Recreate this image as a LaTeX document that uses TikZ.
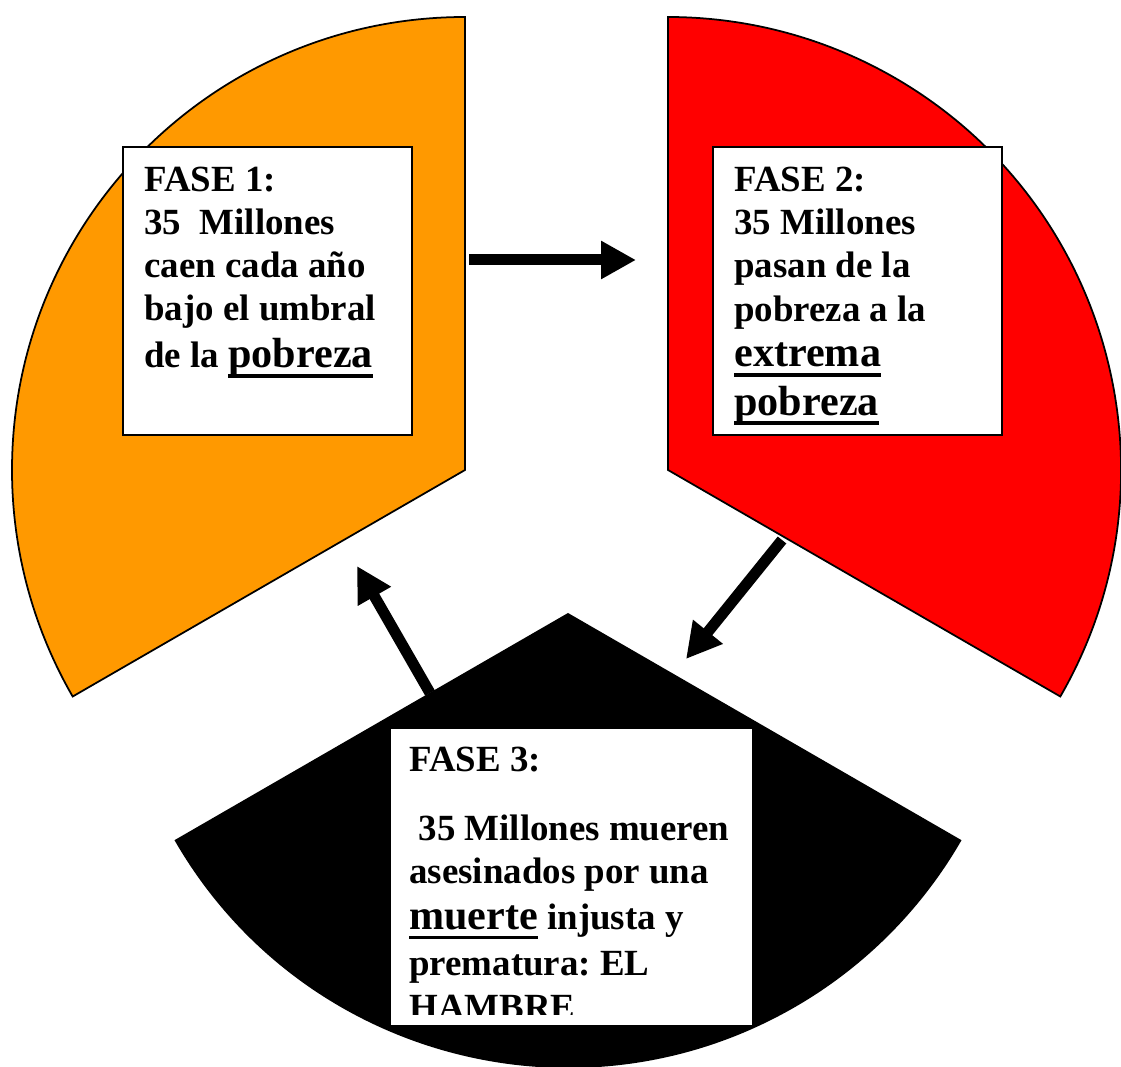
\documentclass[tikz,border=0pt]{standalone}
\usepackage{fontspec}
\setmainfont{Liberation Serif}
\frenchspacing
\usetikzlibrary{positioning,calc,arrows.meta}
\definecolor{faseuno}{RGB}{255,153,0}
\definecolor{fasedos}{RGB}{255,0,0}
\tikzset{
  sector/.style   = {draw, line width=1pt},
  fasebox/.style  = {draw, fill=white, line width=0.9pt, inner sep=0pt, anchor=north west},
  fasetext/.style = {inner sep=0pt, anchor=base west, align=left,
                     font=\bfseries\fontsize{21}{24.5}\selectfont},
  flecha/.style   = {line width=0.22cm},
  >={Triangle[length=0.7cm, width=0.72cm]}
}
\newcommand{\DrawSector}[4]{%
  % draws one piece of the pie (center, start angle, end angle, colour)
  \draw[sector, fill=#4] #1 -- ++(#2:453)
    arc[start angle=#2, end angle=#3, radius=453] -- cycle;
}
\newcommand{\Subr}[1]{%
  % bigger underlined word
  {\fontsize{24}{24.5}\selectfont\setbox0\hbox{#1}%
   \rlap{\rule[-5.7pt]{\wd0}{2.2pt}}\box0}%
}

\begin{document}
\begin{tikzpicture}[x=0.02cm, y=0.02cm]
    \useasboundingbox (0,0) rectangle (1121,1066);

    \DrawSector{(465,596)}{90}{210}{faseuno}
    \DrawSector{(668,596)}{-30}{90}{fasedos}
    \DrawSector{(568,452)}{210}{330}{black}

    % text boxes
    \node[fasebox, minimum width=5.78cm, minimum height=5.76cm] (box1) at (122,920) {};
    \node[fasebox, minimum width=5.78cm, minimum height=5.76cm] (box2) at (712,920) {};
    \node[fasebox, minimum width=7.26cm, minimum height=5.96cm] (box3) at (389,339) {};

    % the base anchor sits on the last line
    \node[fasetext] (txt1) at ($(box1.north west)+(22,-222)$)
    {FASE 1:\\
      35\ \ Millones\\
      caen cada año\\
      bajo el umbral\\[2.7pt]
    de la \Subr{pobreza}};

    \node[fasetext] (txt2) at ($(box2.north west)+(22,-269)$)
    {FASE 2:\\
      35 Millones\\
      pasan de la\\
      pobreza a la\\[1.5pt]
      \Subr{extrema}\\[3pt]
    \Subr{pobreza}};

    \begin{scope}
      \clip ($(box3.south west)+(0,12)$) rectangle (box3.north east);
      \node[fasetext] (txt3) at ($(box3.north west)+(20,-292)$)
      {FASE 3:\\[14.6pt]
        \hspace*{0.25em}35 Millones mueren\\
        asesinados por una\\[1.5pt]
        \Subr{muerte} injusta y\\[1.5pt]
        prematura: EL\\[0.5pt]
      HAMBRE};
    \end{scope}

    % arrows between the phases
    \coordinate (f1out) at (469,806);
    \coordinate (f2in)  at (636,806);
    \coordinate (f2out) at (782,526);
    \coordinate (f3in)  at (686,407);
    \coordinate (f3out) at (430,373);
    \coordinate (f1in)  at (357,500);

    \draw[flecha,->] (f1out) -- (f2in);
    \draw[flecha,->] (f2out) -- (f3in);
    \draw[flecha,->] (f3out) -- (f1in);
  \end{tikzpicture}
\end{document}
